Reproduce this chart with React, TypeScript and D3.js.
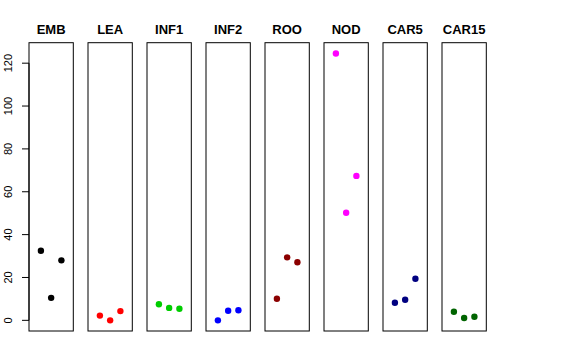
import React from "react";
import * as d3 from "d3";

const panels = ["EMB", "LEA", "INF1", "INF2", "ROO", "NOD", "CAR5", "CAR15"];
const colors = ["#000000", "#FF0000", "#00CD00", "#0000FF", "#8B0000", "#FF00FF", "#000080", "#006400"];
const values: number[][] = [
  [32.5, 10.5, 28.0],
  [2.2, 0.0, 4.3],
  [7.5, 5.8, 5.4],
  [0.0, 4.5, 4.7],
  [10.1, 29.4, 27.1],
  [124.5, 50.2, 67.4],
  [8.2, 9.6, 19.4],
  [4.0, 1.1, 1.7],
];
const yTicks = [0, 20, 40, 60, 80, 100, 120];

export default function App() {
  const W = 576, H = 360;
  const top = 42.7, bottom = 331;
  const panelW = 44.3, step = 59, left0 = 29;
  const y = d3.scaleLinear().domain([-4.98, 129.56]).range([bottom, top]);
  const x = d3.scaleLinear().domain([-0.16, 4.16]).range([0, panelW]);
  const font = "'Liberation Sans', Arial, Helvetica, sans-serif";
  return (
    <svg width={W} height={H} style={{ position: "absolute", left: 0, top: 0 }} fontFamily={font}>
      <rect width={W} height={H} fill="white" />
      {panels.map((p, i) => {
        const x0 = left0 + i * step;
        return (
          <g key={p} transform={`translate(${x0},0)`}>
            <rect x={0} y={top} width={panelW} height={bottom - top} fill="none" stroke="black" strokeWidth={1} />
            <text x={panelW / 2} y={33.5} textAnchor="middle" fontWeight="bold" fontSize={13}>{p}</text>
            {values[i].map((v, j) => (
              <circle key={j} cx={x(j + 1)} cy={y(v)} r={3.2} fill={colors[i]} />
            ))}
          </g>
        );
      })}
      <g>
        <line x1={left0} x2={left0} y1={y(0)} y2={y(120)} stroke="black" />
        {yTicks.map((t) => (
          <g key={t}>
            <line x1={left0 - 7} x2={left0} y1={y(t)} y2={y(t)} stroke="black" />
            <text transform={`translate(11.5,${y(t)}) rotate(-90)`} textAnchor="middle" fontSize={11}>{t}</text>
          </g>
        ))}
      </g>
    </svg>
  );
}
